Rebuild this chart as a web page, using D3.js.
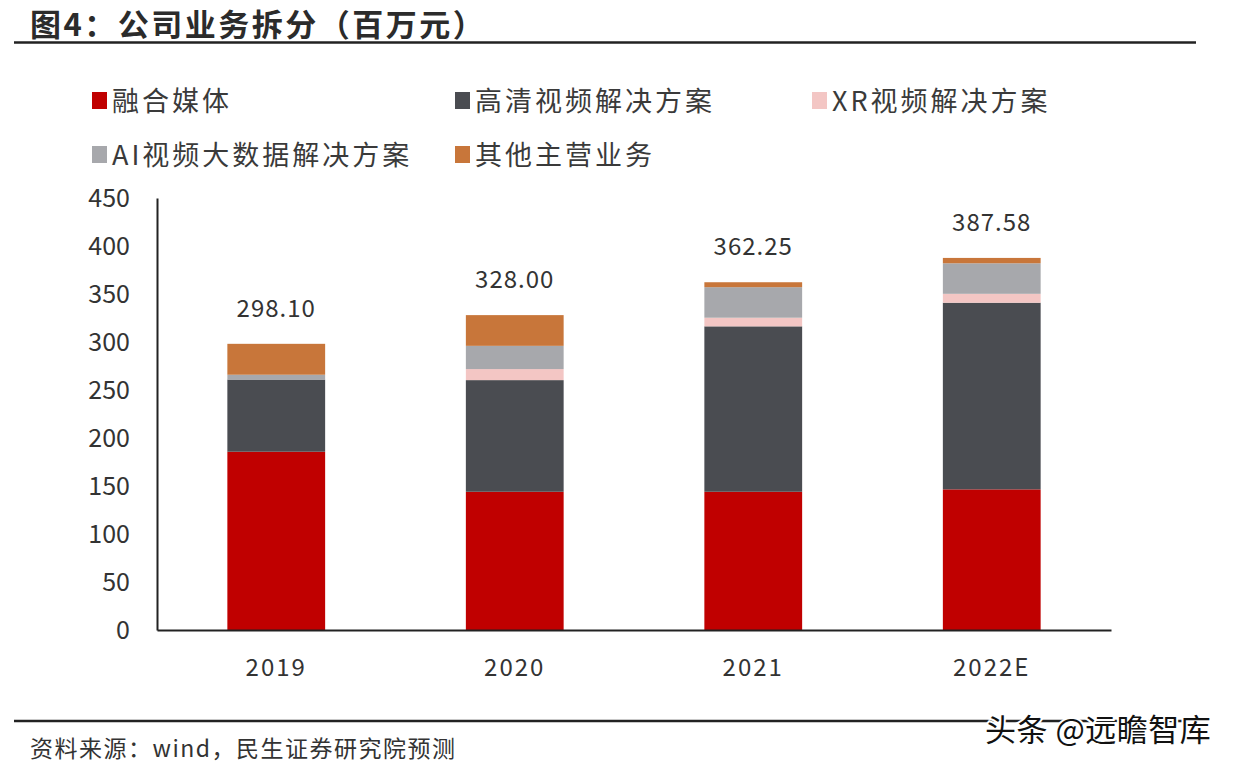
<!DOCTYPE html>
<html><head><meta charset="utf-8">
<script src="https://cdn.jsdelivr.net/npm/d3@7"></script>
<style>body{margin:0;background:#fff}svg{display:block}</style>
</head><body>
<svg id="c" width="1234" height="768"></svg>
<script>
const categories = ["2019","2020","2021","2022E"];
const seriesNames = ["融合媒体","高清视频解决方案","XR视频解决方案","AI视频大数据解决方案","其他主营业务"];
const rongheMeiti = [185.7, 144.0, 144.0, 146.5];
const gaoqing = [75.2, 116.3, 172.3, 194.4];
const xr = [0, 11.5, 9.0, 9.3];
const ai = [5.0, 24.2, 31.8, 31.8];
const other = [32.2, 32.0, 5.15, 5.58];
const totals = ["298.10","328.00","362.25","387.58"];
const yTicks = [0,50,100,150,200,250,300,350,400,450];
const colors = ["#C00000","#4A4C51","#F3C6C4","#A7A8AC","#C8763A"];

const font = "'Noto Sans CJK SC','Noto Sans',sans-serif";
const svg = d3.select("#c");
const values = [rongheMeiti, gaoqing, xr, ai, other];
const rows = categories.map((c,i)=>{const o={cat:c}; seriesNames.forEach((s,j)=>o[s]=values[j][i]); return o;});
const stacked = d3.stack().keys(seriesNames)(rows);

const x = d3.scaleBand().domain(categories).range([157,1111]).paddingInner(0.59).paddingOuter(0.295);
const y = d3.scaleLinear().domain([0,450]).range([630,198]);

// title
svg.append("text").attr("x",30).attr("y",36).attr("font-family",font).attr("font-weight","bold")
  .attr("font-size",31).attr("letter-spacing",2.5).attr("fill","#2b2b2b").text("图4：公司业务拆分（百万元）");
svg.append("line").attr("x1",14).attr("x2",1196).attr("y1",42.5).attr("y2",42.5).attr("stroke","#222").attr("stroke-width",2.5);

// legend
const legPos = [[92,101],[455,101],[812,101],[92,155],[455,155]];
seriesNames.forEach((s,i)=>{
  const g = svg.append("g").attr("transform",`translate(${legPos[i][0]},${legPos[i][1]})`);
  g.append("rect").attr("x",0).attr("y",-9).attr("width",15).attr("height",17).attr("fill",colors[i]);
  g.append("text").attr("x",20).attr("y",10).attr("font-family",font).attr("font-size",27)
    .attr("letter-spacing",3).attr("fill","#3a3a3a").text(s);
});

// bars
svg.append("g").selectAll("g").data(stacked).join("g").attr("fill",(d,i)=>colors[i])
  .selectAll("rect").data(d=>d).join("rect")
  .attr("x",d=>x(d.data.cat)).attr("width",x.bandwidth())
  .attr("y",d=>y(d[1])).attr("height",d=>y(d[0])-y(d[1]));

// total labels
const topLayer = stacked[stacked.length-1];
svg.append("g").selectAll("text").data(categories).join("text")
  .attr("x",d=>x(d)+x.bandwidth()/2).attr("y",(d,i)=>y(topLayer[i][1])-27)
  .attr("text-anchor","middle").attr("font-family",font).attr("font-size",24).attr("letter-spacing",1)
  .attr("fill","#333").text((d,i)=>totals[i]);

// y axis
const ya = svg.append("g").attr("transform","translate(157,0)")
  .call(d3.axisLeft(y).tickValues(yTicks).tickSize(0).tickPadding(27));
ya.select(".domain").attr("stroke","#222").attr("stroke-width",2);
ya.selectAll("text").attr("font-family",font).attr("font-size",25).attr("fill","#333");

// x axis
const xa = svg.append("g").attr("transform","translate(0,630)")
  .call(d3.axisBottom(x).tickSize(0).tickPadding(29));
xa.select(".domain").attr("stroke","#222").attr("stroke-width",2);
xa.selectAll("text").attr("font-family",font).attr("font-size",24).attr("letter-spacing",2).attr("fill","#333");

// footer
svg.append("line").attr("x1",14).attr("x2",1196).attr("y1",721).attr("y2",721).attr("stroke","#222").attr("stroke-width",2.5);
svg.append("text").attr("x",30).attr("y",757).attr("font-family",font).attr("font-size",23).attr("letter-spacing",1.5)
  .attr("fill","#333").text("资料来源：wind，民生证券研究院预测");
svg.append("text").attr("x",985).attr("y",741).attr("font-family",font).attr("font-size",31).attr("letter-spacing",0.5)
  .attr("fill","#111").attr("stroke","#fff").attr("stroke-width",4).attr("paint-order","stroke")
  .text("头条 @远瞻智库");
</script>
</body></html>
